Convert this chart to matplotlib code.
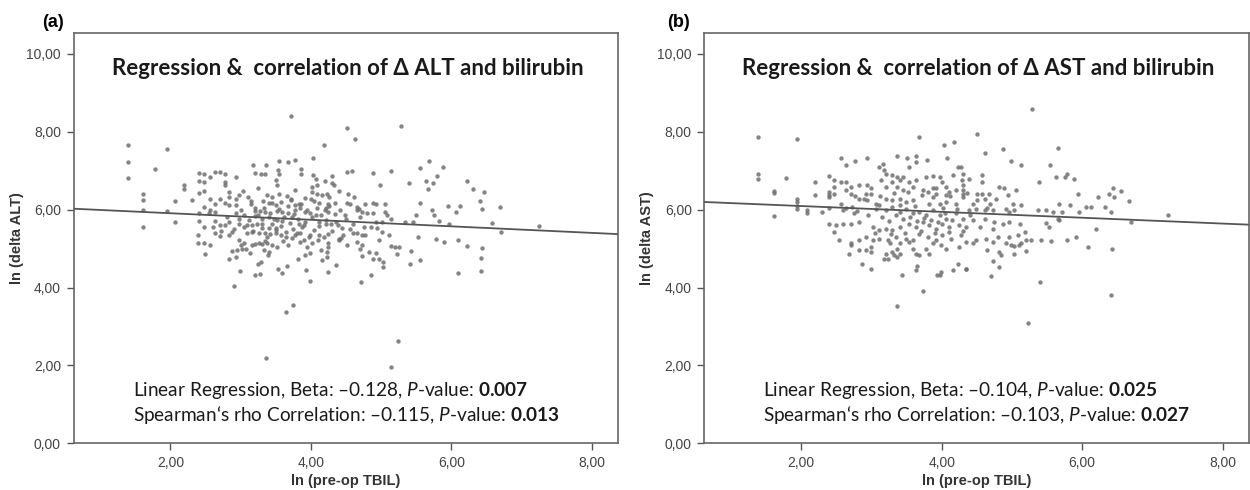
import matplotlib
matplotlib.use("Agg")
import matplotlib.pyplot as plt
import numpy as np

# ln(pre-op TBIL) vs ln(delta ALT)
alt_x = [1.39, 1.39, 1.39, 1.95, 1.78, 1.61, 1.61, 1.61, 1.61, 1.95, 2.07, 2.07, 2.19, 2.19, 2.30,
         3.71, 4.52, 4.63, 5.28, 4.18, 4.03, 3.17, 3.36, 3.55, 3.68, 3.78,
         5.68, 5.56, 5.88, 5.80, 5.64, 5.66, 5.39, 4.88, 5.14, 4.52, 4.58,
         6.22, 6.31, 6.46, 6.41, 6.44, 6.69, 6.58, 6.71, 7.24, 5.95, 6.12,
         3.36, 5.24, 5.14, 3.64, 3.74, 2.90, 4.71, 3.98, 6.10, 6.42, 6.42, 6.44, 6.22, 5.56, 5.41, 5.42,
         4.86, 4.24, 4.36, 3.20, 3.27, 3.25, 3.29, 2.99, 2.83, 2.49, 3.53, 3.59, 3.66, 3.81, 3.93,
         5.02, 5.03, 4.88, 4.97, 4.73, 5.22,
         2.39, 2.39, 2.48, 2.56, 2.63, 2.70, 2.83, 2.88, 2.97, 3.00, 3.05, 2.88, 2.95, 2.94, 3.02,
         3.07, 3.13, 3.16, 3.21, 3.26, 3.31, 3.38, 3.33, 3.40, 3.39, 3.45, 3.52, 3.09, 3.16, 3.26,
         3.35, 3.42, 3.50, 3.57,
         3.64, 3.68, 3.73, 3.78, 3.85, 3.90, 3.97, 4.01, 3.95, 3.92, 3.99, 4.11, 4.14, 4.16, 4.23,
         4.23, 4.25, 4.25, 4.25, 4.40, 4.43, 4.51, 4.60, 4.65, 4.70, 4.73, 4.73, 4.77, 4.82, 4.93,
         4.97, 5.01, 5.11, 5.14, 5.20, 5.25, 5.53, 5.78, 5.90, 6.09,
         2.40, 2.48, 2.40, 2.48, 2.40, 2.48, 2.56, 2.63, 2.70, 2.77, 2.77, 2.77, 2.94, 2.40, 2.40,
         2.48, 2.56, 2.56, 2.63, 2.70, 2.77, 2.83, 2.83, 2.83, 2.94, 2.97, 2.94, 3.04, 3.11, 3.14,
         3.21, 3.29, 3.35, 3.25, 3.53, 3.54, 3.50, 3.52, 3.38, 3.45, 3.32, 3.40, 3.50, 3.21, 3.28,
         3.35, 3.54, 3.57, 3.59, 2.48, 2.63, 2.70, 2.77, 2.83, 2.97, 2.97, 3.09, 3.16, 3.23, 3.21,
         3.31, 3.40, 3.45, 3.52, 3.59, 3.31, 3.40, 3.50, 3.05, 2.93, 2.55, 2.63,
         3.86, 3.86, 4.03, 4.07, 3.77, 4.02, 4.09, 4.20, 4.30, 4.30, 4.33, 4.40, 4.53, 4.61, 4.02,
         4.09, 4.16, 4.23, 4.26, 3.66, 3.71, 3.92, 3.77, 3.83, 3.85, 4.05, 4.11, 4.25, 4.34, 4.51,
         4.56, 4.66, 4.69, 4.77, 4.88, 4.92, 5.05, 4.99, 5.74, 5.56, 5.72, 5.75, 6.06, 5.49, 5.06,
         5.08, 4.49, 4.66, 4.73, 4.80, 4.88, 5.14, 5.34, 5.46, 5.82, 5.96, 4.93, 5.01, 4.21, 4.25,
         3.92, 3.99, 4.07, 3.68, 3.73, 4.11, 4.21, 4.28, 4.35, 3.83, 3.90, 4.44, 4.85, 4.94,
         3.05, 3.12, 3.18, 3.24, 3.30, 3.33, 3.38, 3.42, 3.47, 3.50, 3.55, 3.58, 3.62, 3.65, 3.68,
         3.70, 3.74, 3.76, 3.80, 3.82, 3.86, 3.88, 3.92, 3.95, 3.98, 4.02, 4.05, 4.08, 4.12, 4.15,
         4.18, 4.22, 4.26, 4.30, 4.34, 4.38, 4.42, 4.46, 4.50, 4.55, 4.60, 4.65, 4.70, 4.76, 3.15,
         3.45, 3.72, 4.00, 3.60, 3.85, 4.10, 3.35, 3.20, 3.52, 3.78, 4.20, 4.40, 2.90, 2.80, 2.72,
         2.60, 3.00]
alt_y = [7.65, 7.21, 6.80, 7.54, 7.03, 6.39, 6.24, 6.00, 5.55, 5.96, 5.68, 6.21, 6.62, 6.52, 6.24,
         8.41, 8.08, 7.81, 8.14, 7.65, 7.33, 7.15, 7.15, 7.25, 7.21, 7.26,
         7.24, 7.06, 7.08, 6.85, 6.73, 6.52, 6.67, 6.93, 6.98, 6.95, 6.98,
         6.73, 6.52, 6.44, 6.21, 6.01, 6.06, 5.65, 5.42, 5.58, 6.09, 6.09,
         2.20, 2.63, 1.97, 3.38, 3.55, 4.04, 4.14, 4.17, 4.37, 4.42, 4.76, 5.01, 5.06, 4.71, 4.60, 4.93,
         4.32, 4.40, 4.58, 4.32, 4.35, 4.60, 4.65, 4.42, 4.73, 4.86, 4.48, 4.37, 4.55, 4.73, 4.45,
         4.53, 4.65, 4.73, 4.73, 4.81, 4.86,
         5.34, 5.13, 5.15, 5.09, 5.39, 5.32, 5.34, 5.43, 5.22, 5.09, 5.15, 4.94, 4.96, 4.77, 4.98,
         4.98, 4.88, 5.09, 5.12, 5.13, 5.12, 5.15, 4.96, 4.92, 4.83, 5.09, 5.05, 5.39, 5.43, 5.40,
         5.39, 5.37, 5.40, 5.34,
         5.30, 5.09, 5.26, 5.34, 5.39, 5.22, 5.29, 5.13, 5.05, 4.83, 4.88, 5.34, 4.96, 4.71, 4.79,
         4.92, 5.37, 5.13, 5.05, 5.22, 5.26, 5.09, 5.39, 5.17, 5.00, 5.09, 5.34, 5.34, 4.92, 4.89,
         5.22, 5.43, 5.34, 5.06, 5.03, 5.05, 5.29, 5.24, 5.17, 5.22,
         6.94, 6.92, 6.73, 6.71, 6.43, 6.47, 6.83, 6.96, 6.96, 6.92, 6.71, 6.62, 6.84, 5.92, 5.70,
         6.07, 6.28, 6.00, 6.15, 6.28, 6.18, 6.45, 6.32, 6.11, 6.28, 6.37, 6.11, 6.47, 6.33, 6.13,
         6.94, 6.90, 6.90, 6.56, 7.01, 6.92, 6.75, 6.64, 6.38, 6.33, 6.21, 6.18, 6.11, 6.03, 5.97,
         5.94, 6.41, 6.20, 5.94, 5.56, 5.70, 5.60, 5.60, 5.67, 5.77, 5.64, 5.60, 5.60, 5.64, 5.83,
         5.77, 5.80, 5.64, 5.73, 5.70, 5.52, 5.52, 5.53, 5.86, 5.90, 5.90, 5.94,
         7.05, 6.90, 6.88, 6.79, 6.50, 6.58, 6.62, 6.73, 6.85, 6.67, 6.62, 6.47, 6.41, 6.33, 6.44,
         6.41, 6.37, 6.39, 6.33, 6.35, 6.27, 6.30, 6.11, 6.13, 6.03, 6.21, 6.18, 6.13, 6.16, 6.18,
         6.13, 6.07, 6.01, 6.13, 6.18, 6.13, 6.13, 6.64, 6.68, 6.18, 5.98, 5.86, 5.94, 5.86, 5.94,
         5.87, 5.86, 5.98, 5.94, 5.92, 5.90, 5.77, 5.67, 5.69, 5.70, 5.64, 5.69, 5.67, 6.03, 5.94,
         5.94, 5.90, 5.87, 5.90, 5.81, 5.69, 5.64, 5.64, 5.69, 5.64, 5.60, 5.52, 5.56, 5.53,
         5.55, 5.72, 5.45, 5.85, 5.62, 6.05, 5.30, 5.90, 5.75, 5.48, 6.02, 5.58, 5.82, 5.42, 6.08,
         5.65, 5.50, 5.88, 5.40, 5.75, 6.15, 5.55, 5.68, 6.00, 5.35, 5.80, 5.48, 6.05, 5.58, 5.85,
         5.30, 5.72, 6.10, 5.45, 5.88, 5.60, 6.00, 5.35, 5.75, 5.50, 5.62, 5.40, 5.80, 5.55, 6.22,
         6.18, 6.25, 6.28, 5.20, 5.18, 5.22, 5.20, 5.95, 5.95, 5.98, 6.00, 5.25, 5.50, 5.80, 5.45,
         5.55, 6.00]

# ln(pre-op TBIL) vs ln(delta AST)
ast_x = [1.39, 1.39, 1.39, 1.94, 1.79, 1.61, 1.61, 1.61, 1.94, 1.94, 1.94, 1.94, 2.08, 2.08,
         2.19, 2.19, 2.30, 2.39, 2.39, 2.39, 2.39, 2.39, 2.47, 2.47, 2.47, 2.56, 2.64, 2.76, 2.94,
         2.56, 2.64, 2.64, 2.56, 2.71, 2.71, 2.76, 2.83, 2.90, 2.94, 2.83, 2.94, 2.99, 2.92, 2.99,
         2.64, 2.73, 2.79, 3.06, 3.11, 3.06, 3.16, 3.36, 3.51, 3.63, 3.79, 3.68, 4.04, 4.18, 4.07,
         3.11, 3.18, 3.21, 3.30, 3.37, 3.14, 3.21, 3.30, 3.40, 3.45, 3.37, 3.45, 3.54, 3.59, 3.63,
         3.54, 3.63, 3.78, 3.87, 3.97, 4.01, 3.73, 3.80, 3.87, 3.92, 4.06, 4.16, 4.23, 4.27, 4.06,
         4.11, 4.20, 4.30, 3.21, 3.30, 3.40, 3.49, 3.59, 3.21, 3.30, 3.40, 3.49, 3.59, 3.68, 3.78,
         3.87, 3.87, 3.97, 4.06, 4.20, 4.30, 3.97, 4.06, 4.20, 4.30,
         2.40, 2.49, 2.59, 2.71, 2.83, 2.47, 2.54, 2.71, 2.83, 2.92, 3.02, 3.02, 3.11, 3.21, 3.30,
         3.40, 3.11, 3.23, 3.35, 3.49, 3.59, 3.54, 3.63, 3.73, 3.82, 3.92, 4.01, 4.11, 4.25, 4.35,
         3.68, 3.80, 3.92, 4.01, 4.13, 4.27,
         5.29, 4.51, 4.87, 4.62, 4.99, 5.13, 5.66, 5.54, 5.38, 5.63, 5.76, 5.79, 5.88, 4.57, 4.58,
         4.39, 4.30, 4.29, 4.31, 4.30, 4.36, 4.51, 4.58, 4.68, 4.51, 4.61, 4.69, 4.77, 4.82, 4.89,
         4.94, 5.06, 5.02, 5.13, 4.91, 4.96, 5.03, 4.39, 4.49, 4.61, 4.73, 5.37, 5.49, 5.58, 5.67,
         5.72, 5.82, 5.94, 6.06, 6.13, 6.22, 6.32, 6.38, 6.44, 6.45, 6.56, 6.41, 6.67, 6.70, 7.22,
         5.96, 5.67, 6.20, 4.44, 4.61, 4.75, 4.87, 4.96, 5.11, 4.73, 4.80, 4.96, 5.08, 5.18, 5.20,
         5.49, 5.53, 5.65, 5.27, 5.42, 5.56, 5.79, 5.91, 4.49, 4.63,
         2.71, 2.83, 2.92, 2.99, 2.99, 3.21, 3.30, 3.37, 3.40, 2.87, 2.99, 3.18, 3.23, 3.32, 3.37,
         3.43, 3.26, 3.40, 3.54, 3.59, 3.63, 3.68, 3.78, 3.82, 3.65, 3.63, 3.73, 3.36, 3.94, 3.97,
         3.99, 3.87, 3.99, 4.06, 4.25, 4.23, 4.16, 4.34, 2.68,
         4.35, 4.44, 4.65, 4.73, 4.82, 4.84, 4.92, 4.99, 5.03, 5.10, 5.13, 5.20, 4.73, 4.82, 4.70,
         4.34, 5.03, 5.40, 5.23, 6.09, 6.42, 6.41,
         3.15, 3.25, 3.35, 3.45, 3.55, 3.65, 3.75, 3.85, 3.95, 4.05, 4.15, 3.28, 3.48, 3.70, 3.90,
         4.10, 4.30, 3.40, 3.62, 3.82, 4.02, 4.22, 3.12, 3.32, 3.52, 3.72, 3.92, 4.12, 2.95, 3.05,
         4.40, 4.45, 4.55, 4.65, 2.75, 2.60]
ast_y = [7.87, 6.90, 6.78, 7.80, 6.82, 6.47, 6.43, 5.83, 6.28, 6.20, 6.09, 6.01, 5.98, 5.90,
         6.71, 6.38, 5.94, 6.86, 6.45, 6.38, 6.32, 6.04, 6.75, 6.58, 6.41, 7.33, 7.15, 7.24, 7.31,
         6.71, 6.71, 6.50, 6.15, 6.58, 6.41, 6.34, 6.28, 6.28, 6.24, 6.64, 6.62, 6.54, 6.39, 6.41,
         6.04, 6.07, 5.97, 6.15, 6.11, 6.02, 7.18, 7.37, 7.33, 7.37, 7.28, 7.86, 7.65, 7.72, 7.33,
         7.09, 7.01, 6.92, 6.88, 6.84, 6.75, 6.58, 6.71, 6.75, 6.84, 6.58, 6.50, 6.71, 6.58, 6.77,
         7.09, 7.22, 6.84, 6.86, 6.84, 6.71, 6.50, 6.45, 6.54, 6.41, 6.58, 6.88, 7.09, 7.09, 6.37,
         6.45, 6.50, 6.51, 6.28, 6.24, 6.28, 6.20, 6.24, 5.98, 6.07, 5.94, 6.02, 5.90, 5.94, 5.85,
         5.98, 6.32, 6.15, 6.20, 6.15, 6.32, 5.85, 5.77, 5.90, 5.77,
         5.64, 5.60, 5.64, 5.64, 5.68, 5.43, 5.21, 5.13, 5.23, 5.30, 5.21, 5.55, 5.47, 5.51, 5.47,
         5.55, 5.25, 5.21, 5.30, 5.25, 5.21, 5.64, 5.55, 5.68, 5.60, 5.51, 5.64, 5.55, 5.60, 5.55,
         5.38, 5.30, 5.21, 5.34, 5.25, 5.34,
         8.57, 7.95, 7.55, 7.44, 7.24, 7.14, 7.57, 7.14, 6.71, 6.84, 6.84, 6.92, 6.78, 6.88, 6.71,
         6.79, 6.92, 6.75, 6.62, 6.41, 6.43, 6.41, 6.41, 6.41, 6.24, 6.28, 6.15, 6.28, 6.58, 6.55,
         6.38, 6.50, 6.15, 6.11, 6.02, 5.94, 5.98, 5.98, 6.02, 5.98, 5.98, 6.00, 6.00, 5.94, 6.15,
         5.94, 6.11, 6.41, 6.07, 6.07, 6.32, 6.07, 6.41, 6.54, 6.32, 6.47, 5.94, 6.21, 5.68, 5.85,
         5.94, 5.73, 5.49, 5.72, 5.77, 5.68, 5.64, 5.68, 5.64, 5.51, 5.30, 5.30, 5.34, 5.43, 5.21,
         5.66, 5.55, 5.77, 5.21, 5.21, 5.19, 5.21, 5.30, 5.21, 5.25,
         5.08, 4.96, 4.96, 5.04, 4.91, 4.87, 4.91, 5.00, 4.87, 4.61, 4.47, 4.74, 4.72, 4.83, 4.78,
         4.31, 5.13, 5.13, 5.17, 5.00, 4.87, 4.83, 5.00, 4.87, 4.54, 4.46, 3.91, 3.53, 4.31, 4.31,
         4.40, 5.13, 5.08, 5.00, 5.04, 4.61, 4.44, 4.47, 4.87,
         5.17, 5.14, 4.96, 5.17, 4.91, 4.83, 5.13, 5.08, 5.06, 5.08, 5.13, 4.94, 4.68, 4.53, 4.30,
         4.48, 4.87, 4.15, 3.09, 5.04, 5.00, 3.82,
         5.80, 5.70, 5.85, 5.75, 5.82, 5.70, 5.78, 5.72, 5.68, 5.90, 5.72, 5.38, 5.40, 5.45, 5.40,
         5.42, 5.45, 6.12, 6.10, 6.15, 6.05, 6.02, 6.35, 6.42, 6.45, 6.38, 6.55, 6.35, 5.85, 5.40,
         5.85, 6.15, 5.55, 6.05, 5.90, 6.00]

# fitted regression lines (intercept, slope) as drawn in the figure
alt_fit = (6.073, -0.084)
ast_fit = (6.24, -0.075)

tick_vals_x = [2, 4, 6, 8]
tick_lbls_x = ["2,00", "4,00", "6,00", "8,00"]
tick_vals_y = [0, 2, 4, 6, 8, 10]
tick_lbls_y = ["0,00", "2,00", "4,00", "6,00", "8,00", "10,00"]

panels = [
    ("(a)", alt_x, alt_y, alt_fit, "ln (delta ALT)",
     "Regression &  correlation of \u0394 ALT and bilirubin",
     ("0.128", "0.007"), ("0.115", "0.013")),
    ("(b)", ast_x, ast_y, ast_fit, "ln (delta AST)",
     "Regression &  correlation of \u0394 AST and bilirubin",
     ("0.104", "0.025"), ("0.103", "0.027")),
]

plt.rcParams["mathtext.fontset"] = "custom"
plt.rcParams["mathtext.rm"] = "Lato"
plt.rcParams["mathtext.it"] = "Lato:italic"
plt.rcParams["mathtext.bf"] = "Lato:bold"

fig = plt.figure(figsize=(12.5, 4.9), dpi=100)
lefts = [0.0588, 0.5634]
tag_x = [0.0424, 0.5424]

for i, (tag, xs, ys, fit, ylab, title, lr, sp) in enumerate(panels):
    ax = fig.add_axes([lefts[i], 0.095, 0.4355, 0.837])
    ax.scatter(xs, ys, s=10, color="#707070", alpha=0.85, linewidths=0, zorder=2)
    xlim = (0.62, 8.37)
    xx = np.array(xlim)
    ax.plot(xx, fit[0] + fit[1] * xx, color="#555555", lw=1.3, zorder=3)
    ax.set_xlim(*xlim)
    ax.set_ylim(0, 10.52)
    ax.set_xticks(tick_vals_x)
    ax.set_xticklabels(tick_lbls_x)
    ax.set_yticks(tick_vals_y)
    ax.set_yticklabels(tick_lbls_y)
    ax.tick_params(direction="out", length=5, width=1, color="#555555",
                   labelcolor="#444444", labelsize=10, pad=4)
    for lbl in ax.get_xticklabels() + ax.get_yticklabels():
        lbl.set_family("Liberation Sans")
    for s in ax.spines.values():
        s.set_color("#666666")
        s.set_linewidth(1.2)
    ax.set_xlabel("ln (pre-op TBIL)", fontsize=10.5, fontweight="bold",
                  family="Liberation Sans", color="#333333", labelpad=3)
    ax.set_ylabel(ylab, fontsize=10.5, fontweight="bold",
                  family="Liberation Sans", color="#333333", labelpad=2)
    ax.text(4.52, 9.62, title, ha="center", va="center", fontsize=16,
            fontweight="bold", family=["Lato", "DejaVu Sans"], color="#1a1a1a")
    line1 = ("Linear Regression, Beta: \u2013" + lr[0] +
             r", $\mathit{P}$-value: $\mathbf{" + lr[1] + "}$")
    line2 = ("Spearman\u2018s rho Correlation: \u2013" + sp[0] +
             r", $\mathit{P}$-value: $\mathbf{" + sp[1] + "}$")
    ax.text(1.46, 1.36, line1, ha="left", va="center", fontsize=13.7,
            family="Lato", color="#1a1a1a")
    ax.text(1.46, 0.72, line2, ha="left", va="center", fontsize=13.7,
            family="Lato", color="#1a1a1a")
    fig.text(tag_x[i], 0.955, tag, fontsize=13, fontweight="bold",
             family="Liberation Sans", ha="center", va="center")

fig.savefig("out.png", dpi=100)
